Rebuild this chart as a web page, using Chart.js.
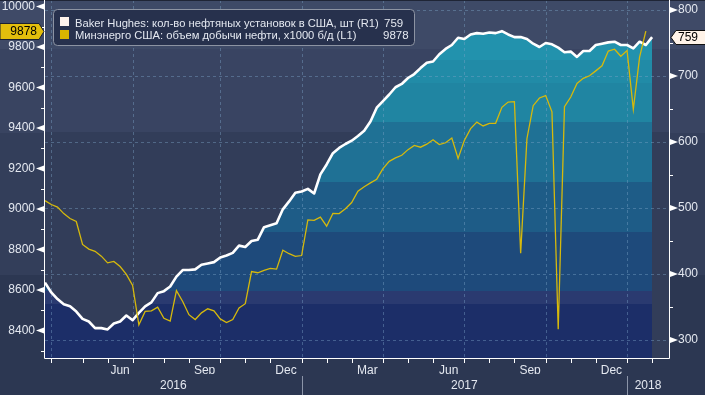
<!DOCTYPE html>
<html><head><meta charset="utf-8">
<script src="https://cdn.jsdelivr.net/npm/chart.js@4.4.1/dist/chart.umd.min.js"></script>
<style>
html,body{margin:0;padding:0;background:#2c3752;overflow:hidden;}
#wrap{position:relative;width:705px;height:395px;}
canvas{display:block;}
</style></head><body>
<div id="wrap"><canvas id="chart" width="705" height="395"></canvas></div>
<script>
// ---------- data (weekly, week 0 = 18 Mar 2016) ----------
const seriesNames = ['Baker Hughes: кол-во нефтяных установок в США, шт (R1)',
                     'Минэнерго США: объем добычи нефти, x1000 б/д (L1)'];
const rigCount = [
  387,372,362,354,351,343,332,328,318,318,316,325,328,337,330,341,351,357,371,374,381,
  396,406,406,407,414,416,418,425,428,432,443,441,450,452,471,474,477,498,510,523,525,
  529,522,551,566,583,591,597,602,609,617,631,652,662,672,683,688,697,703,712,720,722,
  733,741,747,758,756,763,765,764,766,765,768,763,759,759,756,749,744,750,748,743,736,
  737,729,738,738,747,749,751,752,747,747,
  742,752,747,759];
const oilOutput = [
  9041,9022,9009,8977,8953,8938,8825,8802,8791,8767,8734,8741,8716,8677,8622,8428,8494,
  8497,8515,8460,8446,8597,8543,8478,8454,8487,8507,8497,8457,8439,8454,8511,8532,8691,
  8685,8697,8707,8703,8796,8779,8766,8770,
  8946,8944,8960,8915,8978,8977,9001,9032,9088,9110,9129,9147,9199,9235,9252,9265,9293,
  9314,9305,9320,9342,9318,9327,9350,9250,9338,9397,9429,9410,9423,9423,9502,9528,9530,
  8781,9347,9510,9548,9560,9480,8406,9505,9553,9620,9645,9658,9682,9707,9780,9789,9754,9782,
  9492,9750,9878];
const leftTicks = [8400,8600,8800,9000,9200,9400,9600,9800,10000];
const leftMinorTicks = [8300,8500,8700,8900,9100,9300,9500,9700,9900];
const rightTicks = [300,400,500,600,700,800];
const rightMinorTicks = [350,450,550,650,750];
const monthNames = ['Jun','Sep','Dec','Mar','Jun','Sep','Dec'];
const monthNameWeeks = [12,25.5,38.5,51.5,64.5,77.5,90.5];
const monthEndWeeks = [1,6,10,14,19,23,28,32,36,41,45,49,54,58,62,67,71,75,80,84,88,93,97];
const quarterEndWeeks = [1,14,28,41,54,67,80,93];
const yearNames = ['2016','2017','2018'];
const yearNameWeeks = [20.5,67,96.35];
const yearBreakWeeks = [41,93];

// ---------- axis ranges ----------
const X_MIN = 0, X_MAX = 99.7;
const L_MIN = 8264, L_MAX = 10032;
const R_MIN = 272.7, R_MAX = 815.2;

// ---------- styles ----------
const FONT = '"Liberation Sans", Arial, sans-serif';
const TXT = '#e4e8f0';
const pageBands = [[0,49,'#3f4a67'],[49,133,'#394461'],[133,275,'#333e5a'],[275,395,'#2c3752']];
const plotBands = [[0,49,'#3e4a67'],[49,132,'#394462'],[132,400,'#323d59']];
const areaBands = [[0,60,'#2292ad'],[60,83,'#218ba7'],[83,122,'#2085a2'],[122,182,'#1f7195'],
                   [182,232,'#1e5c87'],[232,291,'#1e4a7b'],[291,304,'#2a3a70'],[304,400,'#1c2e68']];

function areaFill(c){
  const chart = c.chart, a = chart.chartArea;
  if(!a) return '#1e5c87';
  const h = a.bottom - a.top;
  const g = chart.ctx.createLinearGradient(0, a.top, 0, a.bottom);
  for (const [y0,y1,col] of areaBands){
    g.addColorStop(Math.min(1,Math.max(0,y0/h)), col);
    g.addColorStop(Math.min(1,Math.max(0,y1/h)), col);
  }
  return g;
}

const deco = {
  id:'deco',
  beforeDraw(chart){
    const {ctx, chartArea:a, width} = chart;
    ctx.save();
    for (const [y0,y1,c] of pageBands){ ctx.fillStyle=c; ctx.fillRect(0,y0,width,y1-y0); }
    for (const [y0,y1,c] of plotBands){
      const yb = Math.min(a.top+y1, a.bottom);
      ctx.fillStyle=c; ctx.fillRect(a.left, a.top+y0, a.right-a.left, yb-(a.top+y0));
    }
    ctx.restore();
  },
  beforeDatasetsDraw(chart){
    const {ctx, chartArea:a, scales} = chart;
    ctx.save();
    ctx.setLineDash([3,3]); ctx.lineWidth=1; ctx.strokeStyle='rgba(125,165,200,0.42)';
    for (const v of rightTicks){
      const y = Math.round(scales.yR.getPixelForValue(v))+0.5;
      ctx.beginPath(); ctx.moveTo(a.left,y); ctx.lineTo(a.right,y); ctx.stroke();
    }
    for (const w of quarterEndWeeks){
      const x = Math.round(scales.x.getPixelForValue(w))+0.5;
      ctx.beginPath(); ctx.moveTo(x,a.top); ctx.lineTo(x,a.bottom); ctx.stroke();
    }
    ctx.restore();
  },
  afterDatasetsDraw(chart){
    const {ctx, chartArea:a, scales, width, height} = chart;
    ctx.save();
    ctx.fillStyle='#1f2536'; ctx.fillRect(0,0,width,1);
    ctx.strokeStyle='#ffffff'; ctx.lineWidth=1;
    ctx.beginPath();
    ctx.moveTo(a.left-0.5, a.top); ctx.lineTo(a.left-0.5, a.bottom+0.5);
    ctx.lineTo(a.right+0.5, a.bottom+0.5); ctx.lineTo(a.right+0.5, a.top);
    ctx.stroke();
    ctx.fillStyle='#ffffff';
    for (const v of leftTicks){
      const y = scales.yL.getPixelForValue(v);
      ctx.beginPath(); ctx.moveTo(a.left-9,y); ctx.lineTo(a.left-1,y-3); ctx.lineTo(a.left-1,y+3); ctx.closePath(); ctx.fill();
    }
    for (const v of leftMinorTicks){
      const y = Math.round(scales.yL.getPixelForValue(v))+0.5;
      ctx.beginPath(); ctx.moveTo(a.left-4,y); ctx.lineTo(a.left,y); ctx.stroke();
    }
    for (const v of rightTicks){
      const y = scales.yR.getPixelForValue(v);
      ctx.beginPath(); ctx.moveTo(a.right+9,y); ctx.lineTo(a.right+1,y-3); ctx.lineTo(a.right+1,y+3); ctx.closePath(); ctx.fill();
    }
    for (const v of rightMinorTicks){
      const y = Math.round(scales.yR.getPixelForValue(v))+0.5;
      ctx.beginPath(); ctx.moveTo(a.right,y); ctx.lineTo(a.right+4,y); ctx.stroke();
    }
    for (const w of monthEndWeeks){
      const x = Math.round(scales.x.getPixelForValue(w))+0.5;
      ctx.beginPath(); ctx.moveTo(x,a.bottom); ctx.lineTo(x,a.bottom+5); ctx.stroke();
    }
    ctx.strokeStyle='#8b94a8';
    for (const w of yearBreakWeeks){
      const x = Math.round(scales.x.getPixelForValue(w))+0.5;
      ctx.beginPath(); ctx.moveTo(x,a.bottom+18); ctx.lineTo(x,height); ctx.stroke();
    }
    // legend
    const lx=53.5, ly=9.5, lw=361, lh=36;
    ctx.beginPath(); ctx.roundRect(lx,ly,lw,lh,4);
    ctx.fillStyle='#27314d'; ctx.fill();
    ctx.strokeStyle='#8c93a2'; ctx.lineWidth=1; ctx.stroke();
    ctx.fillStyle='#fdf2ec'; ctx.fillRect(60,17,9,9);
    ctx.fillStyle='#d8b500'; ctx.fillRect(60,30,9,9);
    ctx.font='11.2px '+FONT; ctx.fillStyle=TXT; ctx.textBaseline='alphabetic'; ctx.textAlign='left';
    ctx.fillText(seriesNames[0], 75, 26.5);
    ctx.fillText(seriesNames[1], 75, 39);
    ctx.font='11.5px '+FONT;
    ctx.fillText(String(rigCount[rigCount.length-1]), 384, 26.5);
    ctx.fillText(String(oilOutput[oilOutput.length-1]), 383, 39);
    ctx.restore();
  },
  afterDraw(chart){
    const {ctx, chartArea:a, scales, width} = chart;
    ctx.save();
    ctx.font='12px '+FONT; ctx.textBaseline='middle';
    const vL = oilOutput[oilOutput.length-1];
    let y = Math.round(scales.yL.getPixelForValue(vL))+0.5;
    ctx.beginPath(); ctx.moveTo(0,y-8); ctx.lineTo(a.left-6,y-8); ctx.lineTo(a.left-1,y); ctx.lineTo(a.left-6,y+8); ctx.lineTo(0,y+8); ctx.closePath();
    ctx.fillStyle='#e3be0c'; ctx.fill(); ctx.strokeStyle='#1b2030'; ctx.lineWidth=1; ctx.stroke();
    ctx.fillStyle='#000000'; ctx.textAlign='right'; ctx.fillText(String(vL), a.left-8, y+0.5);
    const vR = rigCount[rigCount.length-1];
    y = Math.round(scales.yR.getPixelForValue(vR))+0.5;
    ctx.beginPath(); ctx.moveTo(a.right+2,y); ctx.lineTo(a.right+7,y-7); ctx.lineTo(width+2,y-7); ctx.lineTo(width+2,y+7); ctx.lineTo(a.right+7,y+7); ctx.closePath();
    ctx.fillStyle='#fff3e8'; ctx.fill(); ctx.strokeStyle='#111111'; ctx.stroke();
    ctx.fillStyle='#000000'; ctx.textAlign='left'; ctx.fillText(String(vR), a.right+9, y+0.5);
    ctx.restore();
  }
};

Chart.defaults.font.family = FONT;
new Chart(document.getElementById('chart'), {
  type:'line',
  data:{ datasets:[
    { label: seriesNames[1], data: oilOutput.map((v,i)=>({x:i,y:v})), yAxisID:'yL', xAxisID:'x',
      borderColor:'#d6b90c', borderWidth:1.3, pointRadius:0, fill:false, tension:0, order:0 },
    { label: seriesNames[0], data: rigCount.map((v,i)=>({x:i,y:v})), yAxisID:'yR', xAxisID:'x',
      borderColor:'#ffffff', borderWidth:2.6, pointRadius:0, fill:'start', backgroundColor: areaFill,
      tension:0, order:1, borderJoinStyle:'round' }
  ]},
  options:{
    responsive:false, animation:false, devicePixelRatio:1,
    layout:{ padding:0, autoPadding:false },
    events:[],
    plugins:{ legend:{display:false}, tooltip:{enabled:false}, filler:{drawTime:'beforeDatasetsDraw'} },
    scales:{
      x:{ type:'linear', position:'bottom', weight:1, min:X_MIN, max:X_MAX,
          grid:{display:false, drawTicks:false}, border:{display:false},
          afterBuildTicks: s => { s.ticks = monthNameWeeks.map(v=>({value:v})); },
          ticks:{ autoSkip:false, maxRotation:0, padding:5, color:TXT, font:{size:12}, callback:(v,i)=>monthNames[i] },
          afterFit: s => { s.height = 16; s.paddingLeft=0; s.paddingRight=0; } },
      xYear:{ type:'linear', position:'bottom', weight:2, min:X_MIN, max:X_MAX,
          grid:{display:false, drawTicks:false}, border:{display:false},
          afterBuildTicks: s => { s.ticks = yearNameWeeks.map(v=>({value:v})); },
          ticks:{ autoSkip:false, maxRotation:0, padding:4, color:TXT, font:{size:12}, callback:(v,i)=>yearNames[i] },
          afterFit: s => { s.height = 21; s.paddingLeft=0; s.paddingRight=0; } },
      yL:{ type:'linear', position:'left', min:L_MIN, max:L_MAX,
          grid:{display:false, drawTicks:false}, border:{display:false},
          afterBuildTicks: s => { s.ticks = leftTicks.map(v=>({value:v})); },
          ticks:{ padding:10, color:TXT, font:{size:12}, callback: v => String(v) },
          afterFit: s => { s.width = 45; s.paddingTop=0; s.paddingBottom=0; } },
      yR:{ type:'linear', position:'right', min:R_MIN, max:R_MAX,
          grid:{display:false, drawTicks:false}, border:{display:false},
          afterBuildTicks: s => { s.ticks = rightTicks.map(v=>({value:v})); },
          ticks:{ padding:9, color:TXT, font:{size:12}, callback: v => String(v) },
          afterFit: s => { s.width = 36; s.paddingTop=0; s.paddingBottom=0; } }
    }
  },
  plugins:[deco]
});
</script>
</body></html>
